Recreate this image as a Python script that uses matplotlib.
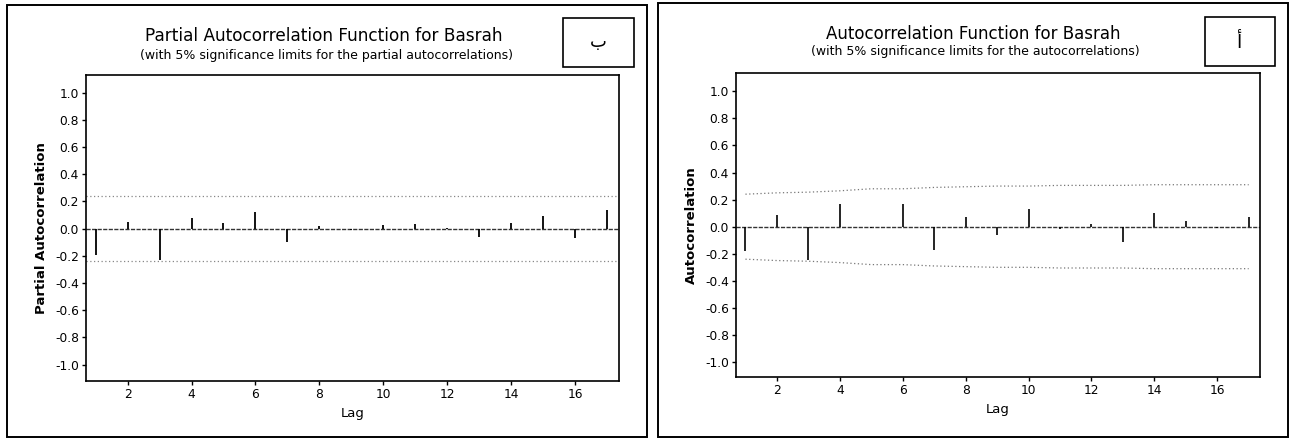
import matplotlib
matplotlib.use("Agg")
import matplotlib.pyplot as plt
from matplotlib.patches import Rectangle

lags = list(range(1, 18))
pacf_values = [-0.19, 0.05, -0.23, 0.08, 0.045, 0.12, -0.10, 0.02, -0.01, 0.025,
               0.035, 0.005, -0.06, 0.045, 0.095, -0.065, 0.135]
pacf_limit = 0.24
acf_values = [-0.18, 0.085, -0.245, 0.165, -0.01, 0.165, -0.17, 0.075, -0.065, 0.13,
              -0.015, 0.02, -0.11, 0.10, 0.045, -0.01, 0.07]
acf_upper = [0.24, 0.25, 0.255, 0.265, 0.28, 0.28, 0.29, 0.295, 0.30, 0.30,
             0.305, 0.305, 0.305, 0.31, 0.31, 0.31, 0.31]
acf_lower = [-v for v in acf_upper]
xticks = [2, 4, 6, 8, 10, 12, 14, 16]
yticks = [1.0, 0.8, 0.6, 0.4, 0.2, 0.0, -0.2, -0.4, -0.6, -0.8, -1.0]

W, H = 1290, 438
fig = plt.figure(figsize=(W / 100, H / 100), dpi=100)
plt.rcParams['font.family'] = ['DejaVu Sans']


def fx(px):
    return px / W


def fy(py):
    return 1 - py / H


def add_rect(x0, y0, x1, y1, lw=1.4):
    fig.patches.append(Rectangle((fx(x0), fy(y1)), fx(x1) - fx(x0), fy(y0) - fy(y1),
                                 transform=fig.transFigure, fill=False,
                                 edgecolor='black', linewidth=lw))


def style_axes(ax, ylabel, ylim):
    ax.set_xlim(0.7, 17.36)
    ax.set_ylim(*ylim)
    ax.set_xticks(xticks)
    ax.set_yticks(yticks)
    ax.set_yticklabels([f"{v:.1f}" for v in yticks])
    ax.tick_params(direction='out', length=3, width=1, labelsize=8.8, pad=2)
    for s in ax.spines.values():
        s.set_linewidth(1.2)
    ax.set_ylabel(ylabel, fontsize=9.5, fontweight='bold', labelpad=5)
    ax.set_xlabel("Lag", fontsize=9.5, labelpad=4)
    ax.axhline(0, color='#333333', lw=1.0, ls=(0, (3, 1)))


# Left panel: PACF
add_rect(7, 5, 647, 437)
axL = fig.add_axes([fx(86), fy(381), fx(618.7) - fx(86), fy(75) - fy(381)])
style_axes(axL, "Partial Autocorrelation", (-1.12, 1.13))
axL.vlines(lags, 0, pacf_values, color='black', lw=1.3)
axL.axhline(pacf_limit, color='#888888', lw=0.9, ls=(0, (1, 2)))
axL.axhline(-pacf_limit, color='#888888', lw=0.9, ls=(0, (1, 2)))
fig.text(fx(324), fy(36), "Partial Autocorrelation Function for Basrah",
         ha='center', va='center', fontsize=12.2)
fig.text(fx(326), fy(56), "(with 5% significance limits for the partial autocorrelations)",
         ha='center', va='center', fontsize=9)
add_rect(563, 18, 634, 67, lw=1.2)
fig.text(fx(598), fy(42), "ب", ha='center', va='center', fontsize=13)

# Right panel: ACF
add_rect(658, 3, 1288, 437)
axR = fig.add_axes([fx(736), fy(377), fx(1260) - fx(736), fy(73) - fy(377)])
style_axes(axR, "Autocorrelation", (-1.11, 1.135))
axR.vlines(lags, 0, acf_values, color='black', lw=1.2)
axR.plot(lags, acf_upper, color='#777777', lw=0.9, ls=(0, (1, 2)))
axR.plot(lags, acf_lower, color='#777777', lw=0.9, ls=(0, (1, 2)))
fig.text(fx(973), fy(34), "Autocorrelation Function for Basrah",
         ha='center', va='center', fontsize=12)
fig.text(fx(975), fy(52), "(with 5% significance limits for the autocorrelations)",
         ha='center', va='center', fontsize=9)
add_rect(1205, 17, 1275, 66, lw=1.2)
fig.text(fx(1240), fy(42), "أ", ha='center', va='center', fontsize=14)

fig.savefig("out.png", dpi=100)
